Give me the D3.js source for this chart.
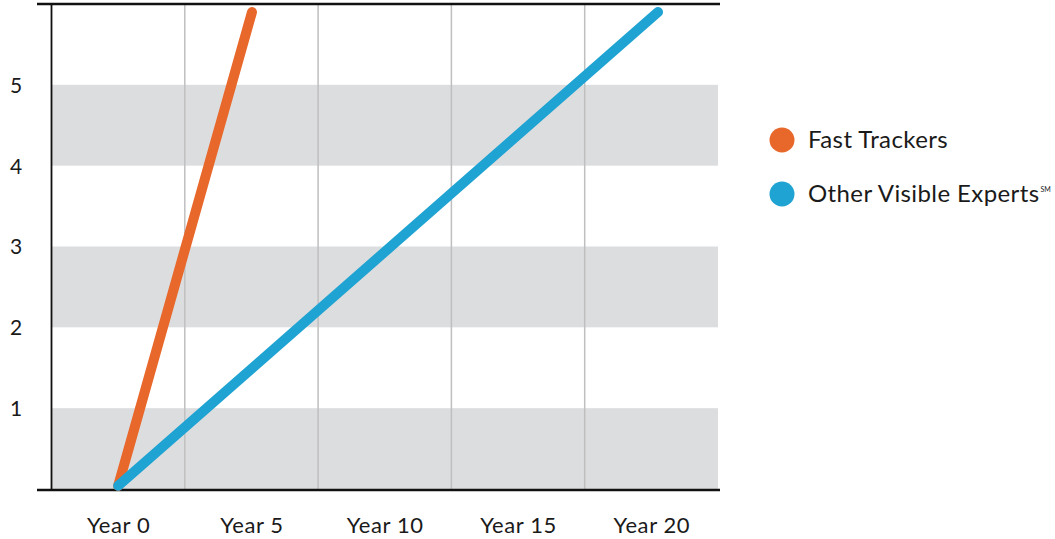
<!DOCTYPE html>
<html>
<head>
<meta charset="utf-8">
<script src="https://cdn.jsdelivr.net/npm/d3@7"></script>
<style>
  html, body { margin: 0; padding: 0; background: #fff; }
  svg { display: block; }
  text { font-family: Lato, "Open Sans", sans-serif; fill: #1a1a1a; }
</style>
</head>
<body>
<svg id="chart" width="1055" height="539"></svg>
<script>
// Career growth comparison: years on the x axis, level on the y axis
const yearTicks = [0, 5, 10, 15, 20];
const yearLabels = ["Year 0", "Year 5", "Year 10", "Year 15", "Year 20"];
const levelTicks = [1, 2, 3, 4, 5];
const shadedBands = [[0, 1], [2, 3], [4, 5]];
const gridYears = [2.5, 7.5, 12.5, 17.5];

const seriesNames = ["Fast Trackers", "Other Visible Experts"];
const fastTrackers = [[0, 0.04], [5.02, 5.9]];
const otherExperts = [[0, 0.04], [20.25, 5.9]];
const seriesColors = ["#e8672a", "#1fa3d2"];

const svg = d3.select("#chart");
const plot = { left: 51.5, right: 718, top: 4, bottom: 489 };

const x = d3.scaleLinear().domain([-2.5, 22.5]).range([plot.left, plot.right]);
const y = d3.scaleLinear().domain([0, 6]).range([plot.bottom, plot.top]);

// shaded horizontal bands
svg.append("g").selectAll("rect")
  .data(shadedBands)
  .join("rect")
  .attr("x", plot.left)
  .attr("width", plot.right - plot.left)
  .attr("y", d => y(d[1]))
  .attr("height", d => y(d[0]) - y(d[1]))
  .attr("fill", "#dcdddf");

// vertical grid lines between year columns
svg.append("g").selectAll("line")
  .data(gridYears)
  .join("line")
  .attr("x1", d => x(d)).attr("x2", d => x(d))
  .attr("y1", plot.top).attr("y2", plot.bottom)
  .attr("stroke", "#bfbfc0")
  .attr("stroke-width", 1.5);

// frame: top rule, bottom axis, left axis
svg.append("line")
  .attr("x1", 37).attr("x2", 720)
  .attr("y1", 4).attr("y2", 4)
  .attr("stroke", "#111").attr("stroke-width", 2.5);
svg.append("line")
  .attr("x1", 37).attr("x2", 720)
  .attr("y1", 490).attr("y2", 490)
  .attr("stroke", "#111").attr("stroke-width", 2.5);
svg.append("line")
  .attr("x1", plot.left).attr("x2", plot.left)
  .attr("y1", 4).attr("y2", 490)
  .attr("stroke", "#111").attr("stroke-width", 1.8);

// x axis labels
const xAxis = d3.axisBottom(x)
  .tickValues(yearTicks)
  .tickFormat((d, i) => yearLabels[i])
  .tickSize(0)
  .tickPadding(0);
const gx = svg.append("g").attr("transform", "translate(0,517)").call(xAxis);
gx.select(".domain").remove();
gx.selectAll("text")
  .attr("dy", "0.71em")
  .style("font-size", "22px")
  .style("letter-spacing", "0.6px")
  .style("font-family", "Lato, 'Open Sans', sans-serif")
  .attr("fill", "#1a1a1a");

// y axis labels, left aligned
const yAxis = d3.axisLeft(y).tickValues(levelTicks).tickFormat(d3.format("d")).tickSize(0);
const gy = svg.append("g").call(yAxis);
gy.select(".domain").remove();
gy.selectAll("text")
  .attr("x", 10)
  .attr("text-anchor", "start")
  .attr("dy", "0.35em")
  .style("font-size", "21px")
  .style("font-family", "Lato, 'Open Sans', sans-serif")
  .attr("fill", "#1a1a1a");

// growth lines (fast trackers underneath, other experts on top)
const line = d3.line().x(d => x(d[0])).y(d => y(d[1]));
const seriesData = [fastTrackers, otherExperts];
svg.append("g").selectAll("path")
  .data(seriesData)
  .join("path")
  .attr("d", line)
  .attr("fill", "none")
  .attr("stroke", (d, i) => seriesColors[i])
  .attr("stroke-width", 10)
  .attr("stroke-linecap", "round");

// legend
const legend = svg.append("g").attr("transform", "translate(782,140)");
const items = legend.selectAll("g")
  .data(seriesNames)
  .join("g")
  .attr("transform", (d, i) => `translate(0,${i * 54})`);
items.append("circle")
  .attr("r", 12.5)
  .attr("fill", (d, i) => seriesColors[i]);
const labels = items.append("text")
  .attr("x", 26)
  .attr("dy", "0.34em")
  .style("font-size", "24px")
  .style("letter-spacing", "0.4px")
  .text(d => d);
labels.filter((d, i) => i === 1)
  .append("tspan")
  .attr("dy", "-10")
  .attr("dx", "1")
  .style("font-size", "7px")
  .style("letter-spacing", "0px")
  .text("SM");
</script>
</body>
</html>
